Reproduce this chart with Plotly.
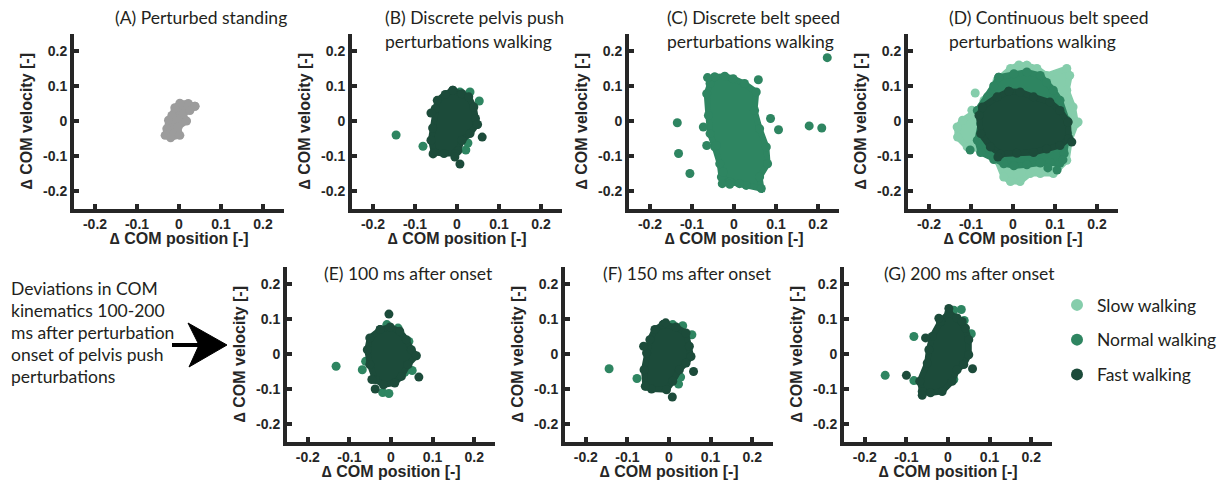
import plotly.graph_objects as go

W, H = 1230, 486
SLOW = '#85cdab'
NORMAL = '#2e8561'
FAST = '#1c4b3a'
GRAY = '#9c9c9c'
AXC = '#262626'
TXT = '#231f20'

TICK_VALS = [-0.2, -0.1, 0, 0.1, 0.2]
TICK_TEXT = ['-0.2', '-0.1', '0', '0.1', '0.2']
SPEEDS = ['Slow walking', 'Normal walking', 'Fast walking']

# ---- Panel A: perturbed standing (outline of the cloud, marker centres) ----
A_STAND_X = [0.038, 0.022, 0.002, -0.010, -0.017, -0.025, -0.029, -0.033, -0.020, 0.002, -0.002, 0.018, 0.010, 0.026]
A_STAND_Y = [0.042, 0.050, 0.051, 0.038, 0.016, 0.002, -0.022, -0.041, -0.048, -0.041, -0.017, 0.000, 0.021, 0.030]

# ---- Panel B: discrete pelvis push, walking ----
B_FAST_X = [-0.010, 0.012, 0.028, 0.040, 0.044, 0.047, 0.031, 0.012, 0.002, -0.004, -0.031, -0.055, -0.062, -0.058, -0.052, -0.047, -0.028]
B_FAST_Y = [0.088, 0.078, 0.069, 0.040, 0.007, -0.010, -0.036, -0.055, -0.085, -0.093, -0.093, -0.090, -0.055, -0.020, 0.035, 0.059, 0.076]
B_FAST_OUT_X = [-0.062, 0.049, 0.060, 0.007, -0.057, -0.005]
B_FAST_OUT_Y = [0.023, -0.010, -0.046, -0.123, -0.094, -0.103]
B_NORM_OUT_X = [-0.145, -0.081, 0.007, 0.031, 0.053, 0.026, 0.021]
B_NORM_OUT_Y = [-0.040, -0.072, 0.083, 0.083, 0.057, -0.063, -0.083]

# ---- Panel C: discrete belt speed, walking ----
C_NORM_X = [-0.046, -0.022, -0.002, 0.025, 0.053, 0.049, 0.061, 0.077, 0.080, 0.061, 0.065, 0.029, 0.013, -0.010, -0.030, -0.034, -0.046, -0.057, -0.061, -0.065, -0.057]
C_NORM_Y = [0.126, 0.128, 0.121, 0.107, 0.083, 0.030, -0.022, -0.074, -0.122, -0.160, -0.193, -0.184, -0.179, -0.174, -0.160, -0.122, -0.074, -0.036, 0.016, 0.078, 0.107]
C_NORM_OUT_X = [-0.063, 0.058, 0.087, 0.106, -0.135, -0.132, -0.105, -0.028, -0.010, 0.179, 0.209, 0.222, -0.073, -0.065, -0.042, -0.026]
C_NORM_OUT_Y = [0.124, 0.118, 0.007, -0.025, -0.005, -0.093, -0.150, -0.179, -0.181, -0.014, -0.020, 0.181, -0.017, -0.070, -0.070, -0.146]

# ---- Panel D: continuous belt speed, walking ----
D_SLOW_X = [0.033, 0.057, 0.080, 0.128, 0.135, 0.128, 0.143, 0.150, 0.135, 0.128, 0.096, 0.065, 0.041, 0.017, -0.006, -0.022, -0.038, -0.069, -0.109, -0.132, -0.133, -0.120, -0.085, -0.069, -0.038, -0.006, 0.014]
D_SLOW_Y = [0.159, 0.150, 0.130, 0.150, 0.130, 0.088, 0.040, -0.008, -0.055, -0.112, -0.150, -0.150, -0.150, -0.173, -0.173, -0.160, -0.112, -0.084, -0.074, -0.046, -0.017, 0.002, 0.030, 0.059, 0.116, 0.150, 0.160]
D_SLOW_OUT_X = [-0.090, -0.098, 0.155]
D_SLOW_OUT_Y = [0.080, 0.031, -0.003]
D_NORM_X = [-0.034, 0.002, 0.033, 0.065, 0.080, 0.096, 0.112, 0.128, 0.130, 0.122, 0.112, 0.088, 0.065, 0.033, 0.002, -0.022, -0.046, -0.077, -0.085, -0.077, -0.085, -0.061, -0.046]
D_NORM_Y = [0.125, 0.135, 0.140, 0.130, 0.110, 0.088, 0.059, 0.002, -0.036, -0.093, -0.120, -0.118, -0.120, -0.125, -0.128, -0.122, -0.110, -0.090, -0.055, -0.008, 0.030, 0.069, 0.100]
D_NORM_OUT_X = [0.105, 0.119, 0.083, -0.102]
D_NORM_OUT_Y = [-0.140, -0.111, -0.134, -0.083]
D_FAST_X = [-0.010, 0.017, 0.049, 0.088, 0.112, 0.131, 0.133, 0.112, 0.080, 0.049, 0.009, -0.030, -0.054, -0.077, -0.081, -0.073, -0.038]
D_FAST_Y = [0.085, 0.083, 0.069, 0.054, 0.030, -0.003, -0.050, -0.070, -0.080, -0.090, -0.092, -0.095, -0.074, -0.036, 0.016, 0.040, 0.069]
D_FAST_OUT_X = [0.140, 0.131, -0.036]
D_FAST_OUT_Y = [-0.060, -0.003, -0.103]

# ---- Panel E: 100 ms after onset ----
E_FAST_X = [-0.026, -0.002, 0.021, 0.037, 0.049, 0.061, 0.041, 0.025, 0.009, -0.018, -0.038, -0.051, -0.057, -0.051]
E_FAST_Y = [0.070, 0.077, 0.065, 0.041, 0.012, -0.005, -0.030, -0.064, -0.083, -0.088, -0.073, -0.030, 0.012, 0.046]
E_FAST_OUT_X = [-0.005, 0.067, -0.038, -0.046]
E_FAST_OUT_Y = [0.114, -0.066, -0.100, -0.073]
E_NORM_OUT_X = [-0.132, -0.069, -0.020, -0.005, -0.010, 0.017, 0.043, 0.051, 0.033, -0.061]
E_NORM_OUT_Y = [-0.035, -0.045, -0.110, -0.113, 0.084, 0.074, 0.036, -0.047, -0.052, -0.021]

# ---- Panel F: 150 ms after onset ----
F_FAST_X = [-0.014, 0.017, 0.041, 0.049, 0.053, 0.041, 0.025, 0.009, -0.006, -0.042, -0.057, -0.060, -0.054, -0.046, -0.034]
F_FAST_Y = [0.084, 0.077, 0.060, 0.022, -0.007, -0.026, -0.045, -0.078, -0.102, -0.100, -0.092, -0.045, 0.003, 0.041, 0.070]
F_FAST_OUT_X = [-0.061, 0.059, 0.008, -0.008]
F_FAST_OUT_Y = [0.022, -0.050, -0.123, 0.089]
F_NORM_OUT_X = [-0.144, -0.077, 0.009, 0.033, 0.055, 0.028, 0.023, -0.054]
F_NORM_OUT_Y = [-0.042, -0.070, 0.084, 0.081, 0.055, -0.066, -0.086, -0.092]

# ---- Panel G: 200 ms after onset ----
G_FAST_X = [-0.018, 0.002, 0.022, 0.042, 0.050, 0.050, 0.038, 0.022, 0.010, -0.014, -0.042, -0.062, -0.068, -0.050, -0.046, -0.038]
G_FAST_Y = [0.093, 0.117, 0.103, 0.074, 0.041, -0.002, -0.030, -0.045, -0.078, -0.107, -0.111, -0.107, -0.078, -0.026, 0.012, 0.050]
G_FAST_OUT_X = [0.002, -0.022, -0.054, -0.100, -0.062, 0.059, 0.034]
G_FAST_OUT_Y = [0.130, 0.102, 0.046, -0.061, -0.118, -0.042, 0.093]
G_NORM_OUT_X = [-0.151, -0.082, -0.082, 0.032, 0.014, 0.039, 0.056, 0.030, 0.014]
G_NORM_OUT_Y = [-0.061, 0.050, -0.076, 0.127, 0.125, 0.096, 0.058, -0.021, -0.073]

# ---------------- layout helpers (pixel positions of the panels) ----------------
MS = 9
LW = 6
def px(x):
    return x / W
def py(y):
    return 1 - y / H

PANELS = [
    # (x0, x1, ytop, ybottom) in pixels
    (74, 284, 33.5, 208.5),
    (352, 562, 33.5, 208.5),
    (629, 839, 33.5, 208.5),
    (908, 1118, 33.5, 208.5),
    (287, 495, 266.5, 441.5),
    (565, 773, 266.5, 441.5),
    (844, 1052, 266.5, 441.5),
]

fig = go.Figure()

def ax_ref(i):
    return ('x' if i == 0 else f'x{i+1}'), ('y' if i == 0 else f'y{i+1}')

def cloud(i, xs, ys, color):
    xr, yr = ax_ref(i)
    fig.add_trace(go.Scatter(
        x=list(xs) + [xs[0]], y=list(ys) + [ys[0]], mode='lines+markers',
        fill='toself', fillcolor=color, line=dict(color=color, width=LW),
        marker=dict(color=color, size=MS), xaxis=xr, yaxis=yr,
        showlegend=False, hoverinfo='skip'))

def dots(i, xs, ys, color):
    xr, yr = ax_ref(i)
    fig.add_trace(go.Scatter(
        x=xs, y=ys, mode='markers', marker=dict(color=color, size=MS),
        xaxis=xr, yaxis=yr, showlegend=False, hoverinfo='skip'))

cloud(0, A_STAND_X, A_STAND_Y, GRAY)
dots(1, B_NORM_OUT_X, B_NORM_OUT_Y, NORMAL)
cloud(1, B_FAST_X, B_FAST_Y, FAST)
dots(1, B_FAST_OUT_X, B_FAST_OUT_Y, FAST)
cloud(2, C_NORM_X, C_NORM_Y, NORMAL)
dots(2, C_NORM_OUT_X, C_NORM_OUT_Y, NORMAL)
cloud(3, D_SLOW_X, D_SLOW_Y, SLOW)
dots(3, D_SLOW_OUT_X, D_SLOW_OUT_Y, SLOW)
cloud(3, D_NORM_X, D_NORM_Y, NORMAL)
dots(3, D_NORM_OUT_X, D_NORM_OUT_Y, NORMAL)
cloud(3, D_FAST_X, D_FAST_Y, FAST)
dots(3, D_FAST_OUT_X, D_FAST_OUT_Y, FAST)
dots(4, E_NORM_OUT_X, E_NORM_OUT_Y, NORMAL)
cloud(4, E_FAST_X, E_FAST_Y, FAST)
dots(4, E_FAST_OUT_X, E_FAST_OUT_Y, FAST)
dots(5, F_NORM_OUT_X, F_NORM_OUT_Y, NORMAL)
cloud(5, F_FAST_X, F_FAST_Y, FAST)
dots(5, F_FAST_OUT_X, F_FAST_OUT_Y, FAST)
dots(6, G_NORM_OUT_X, G_NORM_OUT_Y, NORMAL)
cloud(6, G_FAST_X, G_FAST_Y, FAST)
dots(6, G_FAST_OUT_X, G_FAST_OUT_Y, FAST)

# legend entries
for name, col in zip(SPEEDS, [SLOW, NORMAL, FAST]):
    fig.add_trace(go.Scatter(x=[None], y=[None], mode='markers', name=name,
                             legendgroup=name, marker=dict(color=col, size=MS + 1),
                             xaxis='x7', yaxis='y7'))

TFONT = dict(family='Liberation Sans, Arial', size=14, color=AXC, weight='bold')
LFONT = dict(family='Liberation Sans, Arial', size=16, color=AXC, weight='bold')
SANS = dict(family='Lato', size=17.5, color=TXT)
layout = dict(width=W, height=H, margin=dict(l=0, r=0, t=0, b=0, autoexpand=False),
              paper_bgcolor='white', plot_bgcolor='white',
              legend=dict(x=px(1057), y=py(287), xanchor='left', yanchor='top',
                          font=SANS, tracegroupgap=9, itemsizing='constant',
                          bgcolor='rgba(0,0,0,0)'))

annotations = []
for i, (x0, x1, yt, yb) in enumerate(PANELS):
    xk = 'xaxis' if i == 0 else f'xaxis{i+1}'
    yk = 'yaxis' if i == 0 else f'yaxis{i+1}'
    xr, yr = ax_ref(i)
    common = dict(range=[-0.25, 0.25], showline=True, linewidth=4, linecolor=AXC,
                  ticks='inside', ticklen=5, tickwidth=4, tickcolor=AXC,
                  tickvals=TICK_VALS, ticktext=TICK_TEXT, tickfont=TFONT,
                  showgrid=False, zeroline=False, layer='above traces')
    layout[xk] = dict(domain=[px(x0), px(x1)], anchor=yr, **common)
    layout[yk] = dict(domain=[py(yb), py(yt)], anchor=xr, **common)
    annotations.append(dict(text='\u2206 COM position [-]', x=px((x0 + x1) / 2), y=py(yb + 30),
                            xref='paper', yref='paper', xanchor='center', yanchor='middle',
                            showarrow=False, font=LFONT))
    annotations.append(dict(text='\u2206 COM velocity [-]', x=px(x0 - 48), y=py((yt + yb) / 2),
                            xref='paper', yref='paper', xanchor='center', yanchor='middle',
                            textangle=-90, showarrow=False, font=LFONT))

titles = [
    ('(A) Perturbed standing', 113, 18),
    ('(B) Discrete pelvis push', 383, 18), ('perturbations walking', 383, 42),
    ('(C) Discrete belt speed', 665, 18), ('perturbations walking', 665, 42),
    ('(D) Continuous belt speed', 947, 18), ('perturbations walking', 947, 42),
    ('(E) 100 ms after onset', 322, 273),
    ('(F) 150 ms after onset', 601, 273),
    ('(G) 200 ms after onset', 882, 273),
]
for t, x, y in titles:
    annotations.append(dict(text=t, x=px(x), y=py(y), xref='paper', yref='paper',
                            xanchor='left', yanchor='middle', showarrow=False, font=SANS))

side = ['Deviations in COM', 'kinematics 100-200', 'ms after perturbation',
        'onset of pelvis push', 'perturbations']
for k, t in enumerate(side):
    annotations.append(dict(text=t, x=px(9), y=py(288 + 22.2 * k), xref='paper', yref='paper',
                            xanchor='left', yanchor='middle', showarrow=False, font=SANS))
layout['annotations'] = annotations

# arrow pointing at the bottom row
def pp(x, y):
    return f'{px(x):.5f},{py(y):.5f}'
shapes = [
    dict(type='line', xref='paper', yref='paper', x0=px(172), x1=px(200), y0=py(345), y1=py(345),
         line=dict(color='black', width=4)),
    dict(type='path', xref='paper', yref='paper',
         path=f'M{pp(227, 345)} L{pp(188, 323)} L{pp(199, 345)} L{pp(189, 367)} Z',
         fillcolor='black', line=dict(color='black', width=1)),
]
layout['shapes'] = shapes
fig.update_layout(**layout)
fig.write_html('out.html', config={'displayModeBar': False},
               post_script="document.body.style.margin='0px';")
